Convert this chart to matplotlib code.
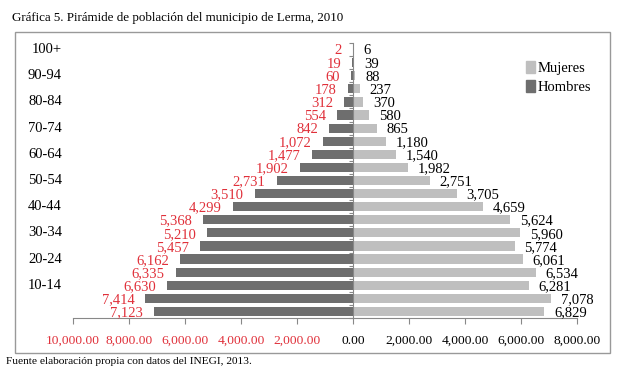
import matplotlib.pyplot as plt
import matplotlib.patches as mpatches
from matplotlib.ticker import FuncFormatter
from matplotlib.transforms import blended_transform_factory, offset_copy

plt.rcParams['font.family'] = ['Liberation Serif', 'DejaVu Serif']

# age groups, bottom to top
age_groups = ['0-4', '5-9', '10-14', '15-19', '20-24', '25-29', '30-34', '35-39',
              '40-44', '45-49', '50-54', '55-59', '60-64', '65-69', '70-74',
              '75-79', '80-84', '85-89', '90-94', '95-99', '100+']
hombres = [7123, 7414, 6630, 6335, 6162, 5457, 5210, 5368, 4299, 3510, 2731,
           1902, 1477, 1072, 842, 554, 312, 178, 60, 19, 2]
mujeres = [6829, 7078, 6281, 6534, 6061, 5774, 5960, 5624, 4659, 3705, 2751,
           1982, 1540, 1180, 865, 580, 370, 237, 88, 39, 6]
x_ticks = [-10000, -8000, -6000, -4000, -2000, 0, 2000, 4000, 6000, 8000]

red = '#e0303a'
dark = '#6e6e6e'
light = '#bfbfbf'

fig = plt.figure(figsize=(6.31, 3.74), dpi=100)
ax = fig.add_axes([73 / 631, 1 - 318 / 374, 504 / 631, 275 / 374])

y = list(range(len(age_groups)))
ax.barh(y, [-v for v in hombres], height=0.7, color=dark, label='Hombres')
ax.barh(y, mujeres, height=0.7, color=light, label='Mujeres')

# value labels
for yi, v in zip(y, hombres):
    ax.annotate(f'{v:,}', (-v, yi), xytext=(-8, -1), textcoords='offset points',
                ha='right', va='center', color=red, fontsize=10.5)
for yi, v in zip(y, mujeres):
    ax.annotate(f'{v:,}', (v, yi), xytext=(7, -1), textcoords='offset points',
                ha='left', va='center', color='black', fontsize=10.5)

ax.set_xlim(-10000, 8000)
ax.set_ylim(-0.5, len(age_groups) - 0.5)

# x axis
ax.set_xticks(x_ticks)
ax.xaxis.set_major_formatter(FuncFormatter(lambda v, p: f'{abs(v):,.2f}'))
ax.tick_params(axis='x', length=4, color='#888888', labelsize=9.7, pad=8)
for lbl, v in zip(ax.get_xticklabels(), x_ticks):
    lbl.set_color(red if v < 0 else 'black')

# y axis drawn at zero, category labels on the far left
ax.spines['left'].set_position(('data', 0))
ax.spines['left'].set_color('#888888')
ax.spines['bottom'].set_color('#888888')
ax.spines['top'].set_visible(False)
ax.spines['right'].set_visible(False)
ax.set_yticks([i - 0.5 for i in range(len(age_groups) + 1)])
ax.set_yticklabels([])
ax.tick_params(axis='y', length=3, color='#888888')

trans = offset_copy(blended_transform_factory(ax.transAxes, ax.transData),
                    fig=fig, x=-8, y=0, units='points')
for i, g in enumerate(age_groups):
    if i >= 2 and i % 2 == 0:
        ax.text(0, i, g, transform=trans, ha='right', va='center', fontsize=10.5)

handles = [mpatches.Patch(color=light), mpatches.Patch(color=dark)]
fig.legend(handles, ['Mujeres', 'Hombres'], loc='upper left',
           bbox_to_anchor=(513 / 631, 1 - 48 / 374), frameon=False,
           fontsize=10.5, handlelength=0.6, handleheight=0.9,
           handletextpad=0.2, labelspacing=0.35)

# chart border
fig.patches.append(mpatches.Rectangle((15 / 631, 1 - 353 / 374), 595 / 631, 321 / 374,
                                      transform=fig.transFigure, fill=False,
                                      edgecolor='#999999', linewidth=1))

fig.text(12 / 631, 1 - 18 / 374, 'Gráfica 5. Pirámide de población del municipio de Lerma, 2010',
         fontsize=9.4, va='center', ha='left')
fig.text(6 / 631, 1 - 362 / 374, 'Fuente elaboración propia con datos del INEGI, 2013.',
         fontsize=8.2, va='center', ha='left')

fig.savefig('out.png', dpi=100)
